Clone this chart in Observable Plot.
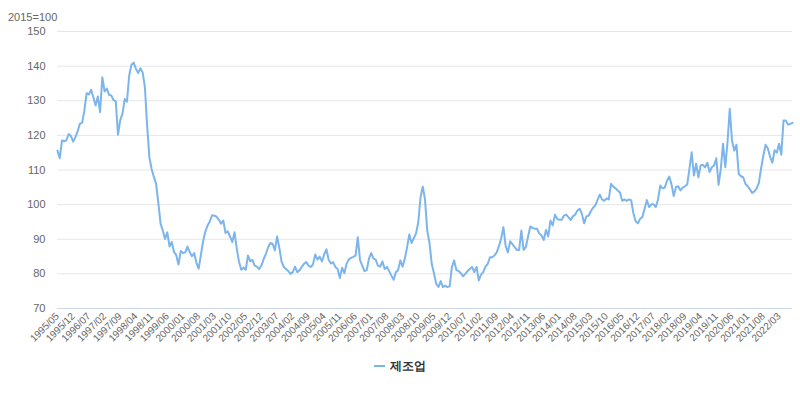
<!DOCTYPE html>
<html>
<head>
<meta charset="utf-8">
<script src="https://cdn.jsdelivr.net/npm/d3@7"></script>
<script src="https://cdn.jsdelivr.net/npm/@observablehq/plot@0.6"></script>
<style>
  html, body { margin: 0; padding: 0; background: #fff; }
  #wrap { position: relative; width: 800px; height: 394px; font-family: "Liberation Sans", Arial, sans-serif; }
  #unit { position: absolute; left: 8px; top: 11px; font-size: 11px; color: #666; }
  #legend { position: absolute; left: 0; width: 800px; top: 358px; text-align: center; font-size: 12px; font-weight: bold; color: #333; }
  #legend .sym { display: inline-block; width: 11px; height: 2px; background: #7cb5ec; vertical-align: middle; margin-right: 5px; position: relative; top: -1px; }
  #chart { position: absolute; left: 0; top: 0; }
</style>
</head>
<body>
<div id="wrap">
  <div id="chart"></div>
  <div id="unit">2015=100</div>
  <div id="legend"><span class="sym"></span>제조업</div>
</div>
<script>
// Series: 제조업 (2015=100), monthly from 1995/05
const startYear = 1995;
const startMonth = 5;
const seriesName = "제조업";
const values = [
  115.6, 113.4, 118.5, 118.3, 118.6, 120.4, 119.8, 118.2, 119.5, 121.2,
  123.4, 123.6, 127.2, 132.2, 131.8, 133.2, 131.0, 128.6, 131.2, 126.7,
  136.8, 132.7, 133.5, 131.7, 131.5, 130.2, 129.8, 120.2, 124.4, 126.3,
  130.5, 129.7, 137.3, 140.4, 141.0, 139.2, 138.0, 139.4, 138.2, 133.9,
  122.8, 113.7, 110.3, 108.0, 106.0, 100.5, 94.5, 92.5, 90.1, 92.0,
  87.9, 89.2, 86.3, 85.4, 82.7, 86.6, 86.0, 86.2, 87.9, 86.3,
  85.1, 86.0, 83.2, 81.5, 85.5, 89.5, 92.3, 94.0, 95.2, 96.9,
  96.8, 96.5, 95.6, 94.5, 95.4, 91.8, 92.3, 90.8, 89.2, 92.0,
  87.3, 83.5, 81.2, 81.8, 81.2, 85.3, 83.7, 84.0, 82.4, 82.1,
  81.4, 82.4, 84.3, 85.8, 87.7, 88.9, 88.7, 86.8, 90.8, 87.5,
  83.5, 82.0, 81.4, 80.8, 80.0, 80.5, 82.1, 80.5, 81.0, 82.0,
  82.9, 83.4, 82.4, 82.0, 82.7, 85.6, 84.1, 85.0, 83.6, 85.6,
  87.1, 84.1, 83.0, 83.4, 82.0, 81.4, 78.8, 81.8, 80.2, 82.9,
  84.2, 84.6, 84.9, 85.3, 90.6, 84.0, 82.4, 80.8, 81.1, 84.4,
  86.0, 84.4, 84.1, 82.4, 82.1, 83.6, 81.4, 82.0, 80.8, 79.5,
  78.3, 80.5, 81.1, 83.9, 82.1, 84.4, 87.7, 91.4, 88.9, 90.3,
  91.7, 94.9, 102.1, 105.2, 101.5, 92.5, 89.0, 82.9, 80.2, 77.1,
  76.2, 77.9, 76.2, 76.6, 76.2, 76.4, 82.0, 83.9, 81.1, 80.8,
  80.2, 79.3, 80.0, 80.8, 81.4, 82.0, 80.5, 82.0, 78.1, 79.8,
  80.5, 82.1, 82.9, 84.8, 84.8, 85.3, 86.2, 88.0, 90.3, 93.5,
  88.0, 86.2, 89.4, 88.6, 87.7, 86.9, 86.9, 92.5, 86.9, 87.7,
  90.8, 93.7, 93.3, 93.0, 93.0, 91.7, 91.1, 89.8, 92.7, 90.8,
  95.4, 94.0, 97.1, 95.9, 95.6, 95.6, 96.8, 97.1, 96.4, 95.6,
  96.6, 97.1, 98.3, 98.8, 97.4, 94.6, 96.6, 96.8, 98.1, 99.1,
  99.8, 101.4, 102.9, 101.5, 101.1, 101.8, 101.5, 106.0, 105.2, 104.7,
  104.1, 103.5, 101.1, 101.5, 101.1, 101.5, 101.3, 97.5, 95.2, 94.6,
  95.9, 96.4, 98.8, 101.3, 99.3, 100.1, 100.1, 99.3, 101.5, 105.5,
  104.7, 104.9, 106.9, 108.1, 105.9, 102.5, 105.1, 105.3, 104.1, 104.9,
  105.3, 105.8, 110.3, 115.1, 108.4, 111.8, 107.9, 111.3, 111.5, 110.8,
  112.1, 109.4, 110.8, 111.3, 113.4, 105.7, 110.3, 117.6, 110.8, 118.0,
  127.7, 118.5, 115.6, 117.3, 108.9, 108.2, 107.9, 106.0, 105.3, 104.4,
  103.4, 103.8, 104.6, 106.3, 110.5, 114.2, 117.3, 116.2, 113.8, 112.1,
  115.7, 115.0, 117.6, 114.4, 124.3, 124.3, 123.1, 123.3, 123.6
];
const yTicks = [70, 80, 90, 100, 110, 120, 130, 140, 150];
const xTickLabels = [
  "1995/05", "1995/12", "1996/07", "1997/02", "1997/09", "1998/04", "1998/11",
  "1999/06", "2000/01", "2000/08", "2001/03", "2001/10", "2002/05", "2002/12",
  "2003/07", "2004/02", "2004/09", "2005/04", "2005/11", "2006/06", "2007/01",
  "2007/08", "2008/03", "2008/10", "2009/05", "2009/12", "2010/07", "2011/02",
  "2011/09", "2012/04", "2012/11", "2013/06", "2014/01", "2014/08", "2015/03",
  "2015/10", "2016/05", "2016/12", "2017/07", "2018/02", "2018/09", "2019/04",
  "2019/11", "2020/06", "2021/01", "2021/08", "2022/03"
];

// month category labels
const months = values.map((_, i) => {
  const m0 = startMonth - 1 + i;
  const y = startYear + Math.floor(m0 / 12);
  const m = (m0 % 12) + 1;
  return `${y}/${String(m).padStart(2, "0")}`;
});
const data = months.map((m, i) => ({month: m, value: values[i]}));

const chart = Plot.plot({
  width: 800,
  height: 394,
  marginLeft: 57,
  marginRight: 8,
  marginTop: 31,
  marginBottom: 86,
  style: {fontFamily: "'Liberation Sans', Arial, sans-serif", fontSize: "11px", color: "#666", background: "transparent", overflow: "visible"},
  x: {type: "point", domain: months, padding: 0},
  y: {domain: [70, 150]},
  marks: [
    Plot.gridY(yTicks.filter(v => v > 70), {stroke: "#e6e6e6", strokeOpacity: 1}),
    Plot.ruleY([70], {stroke: "#ccd6eb", strokeWidth: 1}),
    Plot.axisY(yTicks, {tickSize: 0, tickPadding: 12, fill: "#666", fontSize: 11, label: null}),
    Plot.axisX(xTickLabels, {tickSize: 0, tickRotate: -45, tickPadding: 6, fill: "#666", fontSize: 10, label: null}),
    Plot.lineY(data, {x: "month", y: "value", stroke: "#7cb5ec", strokeWidth: 2, strokeLinejoin: "round"})
  ]
});
document.getElementById("chart").appendChild(chart);
</script>
</body>
</html>
